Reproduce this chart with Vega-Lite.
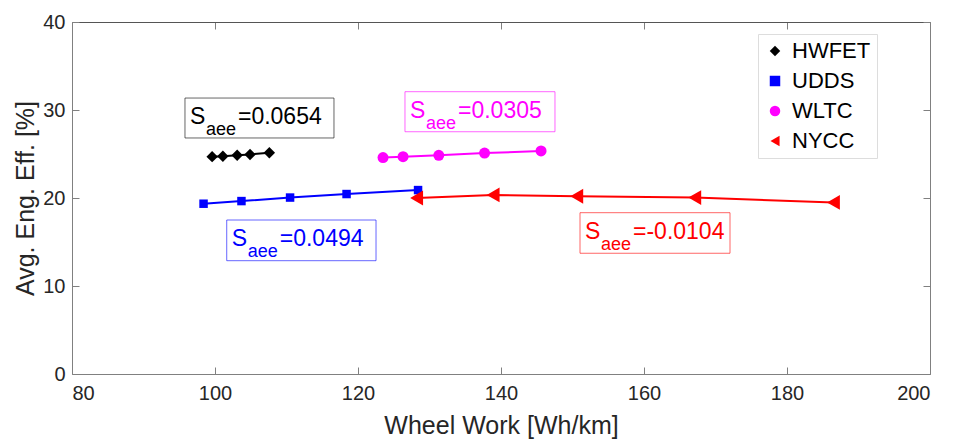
{
  "$schema": "https://vega.github.io/schema/vega-lite/v6.json",
  "width": 858,
  "height": 352,
  "autosize": {"type": "none"},
  "padding": {"left": 72, "top": 22, "right": 24, "bottom": 67},
  "background": "white",
  "config": {
    "view": {"stroke": null},
    "font": "Liberation Sans",
    "axis": {
      "grid": false,
      "labelColor": "#262626",
      "titleColor": "#262626",
      "domainColor": "#808080",
      "tickColor": "#808080",
      "labelFontSize": 20,
      "titleFontSize": 25,
      "titleFontWeight": "normal",
      "tickSize": -7,
      "labelFont": "Liberation Sans",
      "titleFont": "Liberation Sans"
    },
    "legend": {
      "orient": "none", "legendX": 686, "legendY": 12,
      "labelFontSize": 22, "labelColor": "#000000", "labelFont": "Liberation Sans",
      "strokeColor": "#dddddd", "fillColor": "white", "padding": 6, "rowPadding": 8,
      "symbolSize": 110, "labelOffset": 6
    }
  },
  "datasets": {
    "pts": [
      {"cycle": "HWFET", "work": 99.6, "eff": 24.7},
      {"cycle": "HWFET", "work": 101.1, "eff": 24.75},
      {"cycle": "HWFET", "work": 103.1, "eff": 24.85},
      {"cycle": "HWFET", "work": 104.9, "eff": 24.95},
      {"cycle": "HWFET", "work": 107.6, "eff": 25.15},
      {"cycle": "UDDS", "work": 98.4, "eff": 19.35},
      {"cycle": "UDDS", "work": 103.7, "eff": 19.65},
      {"cycle": "UDDS", "work": 110.5, "eff": 20.05},
      {"cycle": "UDDS", "work": 118.4, "eff": 20.45},
      {"cycle": "UDDS", "work": 128.4, "eff": 20.9},
      {"cycle": "WLTC", "work": 123.5, "eff": 24.6},
      {"cycle": "WLTC", "work": 126.3, "eff": 24.7},
      {"cycle": "WLTC", "work": 131.3, "eff": 24.85},
      {"cycle": "WLTC", "work": 137.7, "eff": 25.1},
      {"cycle": "WLTC", "work": 145.6, "eff": 25.35},
      {"cycle": "NYCC", "work": 128.2, "eff": 20.0},
      {"cycle": "NYCC", "work": 138.9, "eff": 20.35},
      {"cycle": "NYCC", "work": 150.6, "eff": 20.2},
      {"cycle": "NYCC", "work": 167.1, "eff": 20.05},
      {"cycle": "NYCC", "work": 186.5, "eff": 19.5}
    ],
    "ann": [
      {"cycle": "HWFET", "label": "=0.0654", "x": 95.8, "x2": 116.64, "top": 31.36, "bottom": 26.82},
      {"cycle": "WLTC", "label": "=0.0305", "x": 126.57, "x2": 147.55, "top": 32.08, "bottom": 27.53},
      {"cycle": "UDDS", "label": "=0.0494", "x": 101.64, "x2": 122.52, "top": 17.5, "bottom": 12.875},
      {"cycle": "NYCC", "label": "=-0.0104", "x": 151.05, "x2": 172.03, "top": 18.33, "bottom": 13.72}
    ]
  },
  "layer": [
    {
      "data": {"name": "pts"},
      "mark": {"type": "line", "strokeWidth": 2},
      "encoding": {
        "x": {"field": "work", "type": "quantitative", "scale": {"domain": [80, 200], "nice": false, "zero": false},
              "axis": {"orient": "top", "labels": false, "title": null, "values": [80, 100, 120, 140, 160, 180, 200], "domainColor": "#555555"}},
        "y": {"field": "eff", "type": "quantitative", "scale": {"domain": [0, 40], "nice": false},
              "axis": {"orient": "right", "labels": false, "title": null, "values": [0, 10, 20, 30, 40]}},
        "detail": {"field": "cycle"},
        "stroke": {"field": "cycle", "type": "nominal", "legend": null,
                   "scale": {"domain": ["NYCC", "WLTC", "UDDS", "HWFET"], "range": ["#ff0000", "#ff00ff", "#0000ff", "#000000"]}}
      }
    },
    {
      "data": {"name": "pts"},
      "transform": [{"filter": "datum.cycle === 'HWFET'"}],
      "mark": {"type": "point", "filled": true, "opacity": 1, "size": 130},
      "encoding": {
        "x": {"field": "work", "type": "quantitative", "scale": {"domain": [80, 200], "nice": false, "zero": false},
              "axis": {"orient": "bottom", "title": "Wheel Work [Wh/km]", "values": [80, 100, 120, 140, 160, 180, 200], "labelPadding": 16, "titlePadding": 10}},
        "y": {"field": "eff", "type": "quantitative", "scale": {"domain": [0, 40], "nice": false},
              "axis": {"orient": "left", "title": "Avg. Eng. Eff. [%]", "values": [0, 10, 20, 30, 40], "labelPadding": 14, "titlePadding": 4}},
        "color": {"field": "cycle", "type": "nominal",
                  "scale": {"domain": ["HWFET", "UDDS", "WLTC", "NYCC"], "range": ["#000000", "#0000ff", "#ff00ff", "#ff0000"]},
                  "legend": {"title": null, "orient": "none", "legendX": 686, "legendY": 12}},
        "shape": {"field": "cycle", "type": "nominal",
                  "scale": {"domain": ["HWFET", "UDDS", "WLTC", "NYCC"], "range": ["diamond", "square", "circle", "triangle-left"]},
                  "legend": {"title": null, "orient": "none", "legendX": 686, "legendY": 12}}
      }
    },
    {
      "data": {"name": "pts"},
      "transform": [{"filter": "datum.cycle === 'UDDS'"}],
      "mark": {"type": "point", "filled": true, "opacity": 1, "size": 72},
      "encoding": {
        "x": {"field": "work", "type": "quantitative", "axis": null},
        "y": {"field": "eff", "type": "quantitative", "axis": null},
        "color": {"field": "cycle", "type": "nominal"},
        "shape": {"field": "cycle", "type": "nominal"}
      }
    },
    {
      "data": {"name": "pts"},
      "transform": [{"filter": "datum.cycle === 'WLTC'"}],
      "mark": {"type": "point", "filled": true, "opacity": 1, "size": 121},
      "encoding": {
        "x": {"field": "work", "type": "quantitative", "axis": null},
        "y": {"field": "eff", "type": "quantitative", "axis": null},
        "color": {"field": "cycle", "type": "nominal"},
        "shape": {"field": "cycle", "type": "nominal"}
      }
    },
    {
      "data": {"name": "pts"},
      "transform": [{"filter": "datum.cycle === 'NYCC'"}],
      "mark": {"type": "point", "filled": true, "opacity": 1, "size": 220},
      "encoding": {
        "x": {"field": "work", "type": "quantitative", "axis": null},
        "y": {"field": "eff", "type": "quantitative", "axis": null},
        "color": {"field": "cycle", "type": "nominal"},
        "shape": {"field": "cycle", "type": "nominal"}
      }
    },
    {
      "data": {"name": "ann"},
      "mark": {"type": "rect", "fill": "white", "strokeWidth": 1, "strokeOpacity": 0.6},
      "encoding": {
        "x": {"field": "x", "type": "quantitative", "axis": null},
        "x2": {"field": "x2"},
        "y": {"field": "top", "type": "quantitative", "axis": null},
        "y2": {"field": "bottom"},
        "stroke": {"field": "cycle", "type": "nominal", "legend": null,
                   "scale": {"domain": ["NYCC", "WLTC", "UDDS", "HWFET"], "range": ["#ff0000", "#ff00ff", "#0000ff", "#000000"]}}
      }
    },
    {
      "data": {"name": "ann"},
      "mark": {"type": "text", "align": "left", "baseline": "alphabetic", "fontSize": 23, "dx": 5, "dy": 26},
      "encoding": {
        "x": {"field": "x", "type": "quantitative", "axis": null},
        "y": {"field": "top", "type": "quantitative", "axis": null},
        "text": {"value": "S"},
        "fill": {"field": "cycle", "type": "nominal", "legend": null,
                 "scale": {"domain": ["NYCC", "WLTC", "UDDS", "HWFET"], "range": ["#ff0000", "#ff00ff", "#0000ff", "#000000"]}}
      }
    },
    {
      "data": {"name": "ann"},
      "mark": {"type": "text", "align": "left", "baseline": "alphabetic", "fontSize": 18, "dx": 21, "dy": 37},
      "encoding": {
        "x": {"field": "x", "type": "quantitative", "axis": null},
        "y": {"field": "top", "type": "quantitative", "axis": null},
        "text": {"value": "aee"},
        "fill": {"field": "cycle", "type": "nominal", "legend": null,
                 "scale": {"domain": ["NYCC", "WLTC", "UDDS", "HWFET"], "range": ["#ff0000", "#ff00ff", "#0000ff", "#000000"]}}
      }
    },
    {
      "data": {"name": "ann"},
      "mark": {"type": "text", "align": "left", "baseline": "alphabetic", "fontSize": 23, "dx": 53, "dy": 26},
      "encoding": {
        "x": {"field": "x", "type": "quantitative", "axis": null},
        "y": {"field": "top", "type": "quantitative", "axis": null},
        "text": {"field": "label"},
        "fill": {"field": "cycle", "type": "nominal", "legend": null,
                 "scale": {"domain": ["NYCC", "WLTC", "UDDS", "HWFET"], "range": ["#ff0000", "#ff00ff", "#0000ff", "#000000"]}}
      }
    }
  ],
  "resolve": {"axis": {"x": "independent", "y": "independent"}}
}
